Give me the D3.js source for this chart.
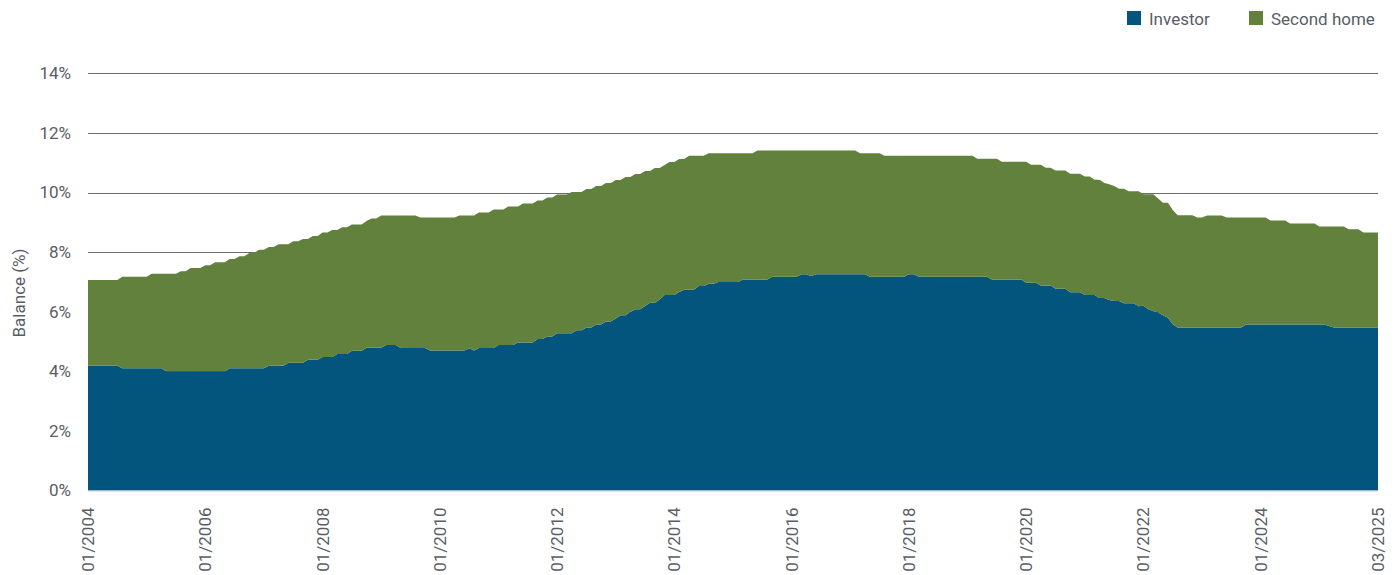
<!DOCTYPE html>
<html>
<head>
<meta charset="utf-8">
<script src="https://cdn.jsdelivr.net/npm/d3@7"></script>
<style>
  html, body { margin: 0; padding: 0; background: #ffffff; }
  svg { display: block; font-family: Roboto, "Noto Sans", sans-serif; }
</style>
</head>
<body>
<svg id="chart" width="1395" height="575"></svg>
<script>
// ---- DATA (monthly, index 0 = 01/2004) ----
const seriesNames = ["Investor", "Second home"];
const seriesColors = ["#03557d", "#61813c"];

const investor = [
  4.19,4.19,4.19,4.19,4.19,4.19,4.19,4.10,4.10,4.10,
  4.10,4.10,4.10,4.10,4.10,4.10,4.00,4.00,4.00,4.00,
  4.00,4.00,4.00,4.00,4.00,4.00,4.00,4.00,4.00,4.10,
  4.10,4.10,4.10,4.10,4.10,4.10,4.10,4.19,4.19,4.19,
  4.19,4.29,4.29,4.29,4.29,4.39,4.39,4.39,4.48,4.48,
  4.48,4.58,4.58,4.58,4.69,4.69,4.69,4.79,4.79,4.79,
  4.79,4.88,4.88,4.88,4.78,4.78,4.78,4.78,4.78,4.78,
  4.70,4.70,4.70,4.70,4.70,4.70,4.70,4.70,4.77,4.70,
  4.78,4.78,4.78,4.78,4.88,4.88,4.88,4.88,4.97,4.97,
  4.97,4.97,5.08,5.08,5.17,5.17,5.28,5.28,5.28,5.28,
  5.38,5.38,5.47,5.47,5.57,5.57,5.67,5.67,5.77,5.88,
  5.88,5.99,6.08,6.08,6.19,6.30,6.30,6.41,6.56,6.56,
  6.56,6.66,6.74,6.74,6.74,6.86,6.86,6.94,6.94,7.00,
  7.00,7.00,7.00,7.00,7.08,7.08,7.08,7.08,7.08,7.08,
  7.17,7.17,7.17,7.17,7.17,7.17,7.26,7.26,7.20,7.26,
  7.26,7.26,7.26,7.26,7.26,7.26,7.26,7.26,7.26,7.26,
  7.17,7.17,7.17,7.17,7.17,7.17,7.17,7.17,7.26,7.26,
  7.17,7.17,7.17,7.17,7.17,7.17,7.17,7.17,7.17,7.17,
  7.17,7.17,7.17,7.17,7.17,7.08,7.08,7.08,7.08,7.08,
  7.08,7.08,6.97,6.97,6.97,6.88,6.88,6.88,6.77,6.77,
  6.77,6.65,6.65,6.65,6.56,6.56,6.56,6.46,6.46,6.39,
  6.36,6.36,6.28,6.28,6.28,6.18,6.20,6.08,6.02,5.97,
  5.88,5.80,5.58,5.47,5.47,5.47,5.47,5.47,5.47,5.47,
  5.47,5.47,5.47,5.47,5.47,5.47,5.47,5.57,5.57,5.57,
  5.57,5.57,5.57,5.57,5.57,5.57,5.57,5.57,5.57,5.57,
  5.57,5.57,5.57,5.57,5.52,5.47,5.47,5.47,5.47,5.47,
  5.47,5.47,5.47,5.47,5.47
];

const secondHome = [
  2.87,2.87,2.87,2.87,2.87,2.87,2.87,3.07,3.07,3.07,
  3.07,3.07,3.07,3.17,3.17,3.17,3.27,3.27,3.27,3.36,
  3.36,3.47,3.47,3.47,3.56,3.56,3.66,3.66,3.66,3.67,
  3.67,3.76,3.76,3.87,3.87,3.98,3.98,3.98,3.98,4.07,
  4.07,3.97,4.07,4.07,4.15,4.05,4.15,4.15,4.18,4.18,
  4.26,4.16,4.25,4.25,4.24,4.24,4.24,4.25,4.34,4.34,
  4.44,4.35,4.35,4.35,4.45,4.45,4.45,4.45,4.38,4.38,
  4.46,4.46,4.46,4.46,4.46,4.46,4.53,4.53,4.46,4.53,
  4.55,4.55,4.55,4.65,4.55,4.55,4.65,4.65,4.56,4.66,
  4.66,4.66,4.65,4.65,4.66,4.66,4.65,4.65,4.65,4.74,
  4.64,4.64,4.65,4.65,4.65,4.65,4.65,4.65,4.65,4.54,
  4.64,4.53,4.54,4.54,4.53,4.42,4.52,4.41,4.36,4.46,
  4.46,4.46,4.38,4.49,4.49,4.37,4.37,4.38,4.38,4.32,
  4.32,4.32,4.32,4.32,4.24,4.24,4.24,4.33,4.33,4.33,
  4.24,4.24,4.24,4.24,4.24,4.24,4.15,4.15,4.21,4.15,
  4.15,4.15,4.15,4.15,4.15,4.15,4.15,4.15,4.06,4.06,
  4.15,4.15,4.15,4.06,4.06,4.06,4.06,4.06,3.97,3.97,
  4.06,4.06,4.06,4.06,4.06,4.06,4.06,4.06,4.06,4.06,
  4.06,4.06,3.96,3.96,3.96,4.05,4.05,3.95,3.95,3.95,
  3.95,3.95,4.06,3.96,3.96,4.05,3.95,3.95,3.97,3.97,
  3.97,3.98,3.98,3.98,3.98,3.98,3.87,3.97,3.86,3.89,
  3.86,3.77,3.85,3.76,3.76,3.86,3.74,3.86,3.92,3.83,
  3.78,3.86,3.83,3.77,3.77,3.77,3.77,3.69,3.69,3.76,
  3.76,3.76,3.76,3.69,3.69,3.69,3.69,3.59,3.59,3.59,
  3.59,3.59,3.49,3.49,3.49,3.49,3.39,3.39,3.39,3.39,
  3.39,3.39,3.29,3.29,3.34,3.39,3.39,3.39,3.30,3.30,
  3.30,3.19,3.19,3.19,3.19
];

const xTickLabels = ["01/2004","01/2006","01/2008","01/2010","01/2012","01/2014",
                     "01/2016","01/2018","01/2020","01/2022","01/2024","03/2025"];
const yTicks = [0, 2, 4, 6, 8, 10, 12, 14];
const yAxisTitle = "Balance (%)";

// ---- LAYOUT ----
const svg = d3.select("#chart");
const margin = { left: 88, right: 1378, top: 73.3, bottom: 490.5 };
const textColor = "#595d66";
const fontSize = 17;

const n = investor.length;
const x = d3.scaleLinear().domain([0, n - 1]).range([margin.left, margin.right]);
const y = d3.scaleLinear().domain([0, 14]).range([margin.bottom, margin.top]);

const rows = investor.map((v, i) => ({ i: i, Investor: v, "Second home": secondHome[i] }));
const stack = d3.stack().keys(seriesNames);
const layers = stack(rows);

// gridlines
svg.append("g")
  .selectAll("line")
  .data(yTicks.filter(t => t > 0))
  .join("line")
  .attr("x1", margin.left).attr("x2", margin.right)
  .attr("y1", d => Math.round(y(d)) + 0.5).attr("y2", d => Math.round(y(d)) + 0.5)
  .attr("stroke", "#6a6d75").attr("stroke-width", 1);

// areas
const area = d3.area()
  .x(d => x(d.data.i))
  .y0(d => y(d[0]))
  .y1(d => y(d[1]))
  .curve(d3.curveLinear);

svg.append("g")
  .selectAll("path")
  .data(layers)
  .join("path")
  .attr("d", area)
  .attr("fill", (d, k) => seriesColors[k]);

// zero line
svg.append("line")
  .attr("x1", margin.left).attr("x2", margin.right)
  .attr("y1", y(0) + 0.5).attr("y2", y(0) + 0.5)
  .attr("stroke", "#c3c7cc").attr("stroke-width", 1);

// y axis labels
const yAxis = d3.axisLeft(y).tickValues(yTicks).tickFormat(d => d + "%").tickSize(0).tickPadding(17);
const gy = svg.append("g").attr("transform", `translate(${margin.left},0)`).call(yAxis);
gy.select(".domain").remove();
gy.selectAll("text")
  .attr("fill", textColor)
  .style("font-size", fontSize + "px")
  .style("font-family", "Roboto, sans-serif");

// x axis labels
const tickIdx = xTickLabels.map((_, k) => k * (n - 1) / (xTickLabels.length - 1));
const xAxis = d3.axisBottom(x).tickValues(tickIdx).tickFormat((d, k) => xTickLabels[k]).tickSize(0);
const gx = svg.append("g").attr("transform", `translate(0,${margin.bottom})`).call(xAxis);
gx.select(".domain").remove();
gx.selectAll("text")
  .attr("fill", textColor)
  .style("font-size", fontSize + "px")
  .style("font-family", "Roboto, sans-serif")
  .attr("text-anchor", "end")
  .attr("dy", null)
  .attr("y", null)
  .attr("transform", "translate(5.5,17) rotate(-90)");

// y axis title
svg.append("text")
  .attr("transform", "translate(25,293) rotate(-90)")
  .attr("text-anchor", "middle")
  .attr("fill", textColor)
  .style("font-size", fontSize + "px")
  .text(yAxisTitle);

// legend
const legendX = [1127, 1249];
const lg = svg.append("g");
seriesNames.forEach((name, k) => {
  lg.append("rect")
    .attr("x", legendX[k]).attr("y", 11)
    .attr("width", 14).attr("height", 14)
    .attr("fill", seriesColors[k]);
  lg.append("text")
    .attr("x", legendX[k] + 22).attr("y", 24.5)
    .attr("fill", textColor)
    .style("font-size", fontSize + "px")
    .text(name);
});
</script>
</body>
</html>
